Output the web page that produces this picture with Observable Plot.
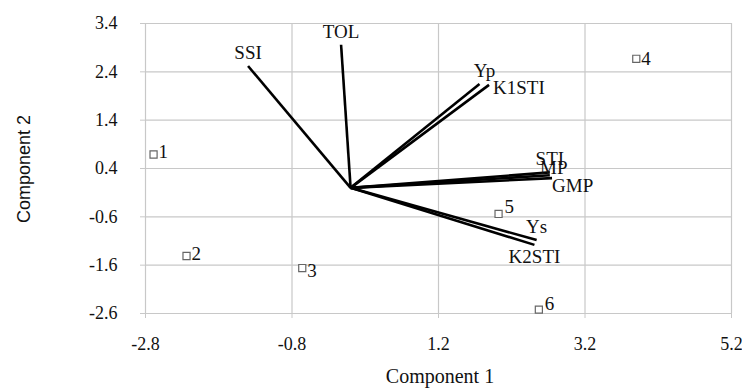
<!DOCTYPE html>
<html>
<head>
<meta charset="utf-8">
<script src="https://cdn.jsdelivr.net/npm/d3@7"></script>
<script src="https://cdn.jsdelivr.net/npm/@observablehq/plot@0.6"></script>
<style>
  html, body { margin: 0; padding: 0; background: #fff; }
  #chart svg { display: block; }
  #chart svg text { font-family: "Liberation Serif", "Times New Roman", serif; }
  #chart svg text.ytitle { font-family: "Liberation Sans", Arial, sans-serif; }
</style>
</head>
<body>
<div id="chart"></div>
<script>
// Variable vectors (loadings)
const variables = ["SSI", "TOL", "Yp", "K1STI", "STI", "MP", "GMP", "Ys", "K2STI"];
const varComp1 = [-1.40, -0.13, 1.76, 1.89, 2.72, 2.72, 2.75, 2.54, 2.51];
const varComp2 = [2.52, 2.96, 2.15, 2.13, 0.32, 0.26, 0.20, -1.08, -1.18];

// Genotype scores
const genotypes = ["1", "2", "3", "4", "5", "6"];
const genComp1 = [-2.69, -2.24, -0.66, 3.90, 2.02, 2.57];
const genComp2 = [0.69, -1.41, -1.66, 2.67, -0.54, -2.52];

// Axis ticks
const xTicks = [-2.8, -0.8, 1.2, 3.2, 5.2];
const yTicks = [-2.6, -1.6, -0.6, 0.4, 1.4, 2.4, 3.4];

const vecs = variables.map((name, i) => ({name, x: varComp1[i], y: varComp2[i]}));
const gens = genotypes.map((name, i) => ({name, x: genComp1[i], y: genComp2[i]}));

const serif = "Liberation Serif";

function varLabel(names, opts) {
  return Plot.text(vecs.filter(d => names.includes(d.name)), {
    x: "x", y: "y", text: "name", fontSize: 19, fill: "#111", fontFamily: serif, ...opts
  });
}
function genLabel(names, opts) {
  return Plot.text(gens.filter(d => names.includes(d.name)), {
    x: "x", y: "y", text: "name", fontSize: 19, fill: "#111", fontFamily: serif,
    textAnchor: "start", ...opts
  });
}

const chart = Plot.plot({
  width: 742,
  height: 389,
  marginLeft: 145,
  marginRight: 11,
  marginTop: 23,
  marginBottom: 76,
  style: {fontFamily: serif, background: "#fff"},
  x: {domain: [-2.8, 5.2]},
  y: {domain: [-2.6, 3.4]},
  marks: [
    Plot.gridX(xTicks, {stroke: "#c8c8c8", strokeOpacity: 1, strokeWidth: 1.2}),
    Plot.gridY(yTicks, {stroke: "#c8c8c8", strokeOpacity: 1, strokeWidth: 1.2}),
    Plot.axisX({
      ticks: xTicks, tickFormat: d => d.toFixed(1), tickSize: 5, tickPadding: 19,
      stroke: "#c8c8c8", fontSize: 18, fill: "#111", fontFamily: serif,
      label: null
    }),
    Plot.axisY({
      ticks: yTicks, tickFormat: d => d.toFixed(1), tickSize: 5, tickPadding: 23,
      stroke: "#c8c8c8", fontSize: 18, fill: "#111", fontFamily: serif,
      label: null
    }),
    Plot.link(vecs, {x1: () => 0, y1: () => 0, x2: "x", y2: "y", stroke: "#000", strokeWidth: 2.6}),
    Plot.dot(gens, {x: "x", y: "y", symbol: "square", r: 4, stroke: "#666", fill: "#fff", strokeWidth: 1.2}),
    varLabel(["SSI", "TOL", "Ys", "STI"], {dy: -13}),
    varLabel(["Yp"], {dx: 5, dy: -13}),
    varLabel(["MP"], {dx: 4, dy: -7}),
    varLabel(["K1STI"], {textAnchor: "start", dx: 4, dy: 3}),
    varLabel(["GMP"], {textAnchor: "start", dx: 0, dy: 8}),
    varLabel(["K2STI"], {dy: 12}),
    genLabel(["1"], {dx: 5, dy: -3}),
    genLabel(["2"], {dx: 5, dy: -2}),
    genLabel(["3"], {dx: 5, dy: 3}),
    genLabel(["4"], {dx: 5, dy: 0}),
    genLabel(["5"], {dx: 6, dy: -7}),
    genLabel(["6"], {dx: 6, dy: -6})
  ]
});

const svg = d3.select(chart);
// X axis title
svg.append("text")
  .attr("x", 440)
  .attr("y", 383)
  .attr("text-anchor", "middle")
  .attr("font-size", 20)
  .attr("fill", "#111")
  .text("Component 1");
// Y axis title
svg.append("text")
  .attr("class", "ytitle")
  .attr("transform", "translate(30,169) rotate(-90)")
  .attr("text-anchor", "middle")
  .attr("font-size", 18)
  .attr("fill", "#111")
  .text("Component 2");

document.getElementById("chart").appendChild(chart);
</script>
</body>
</html>
